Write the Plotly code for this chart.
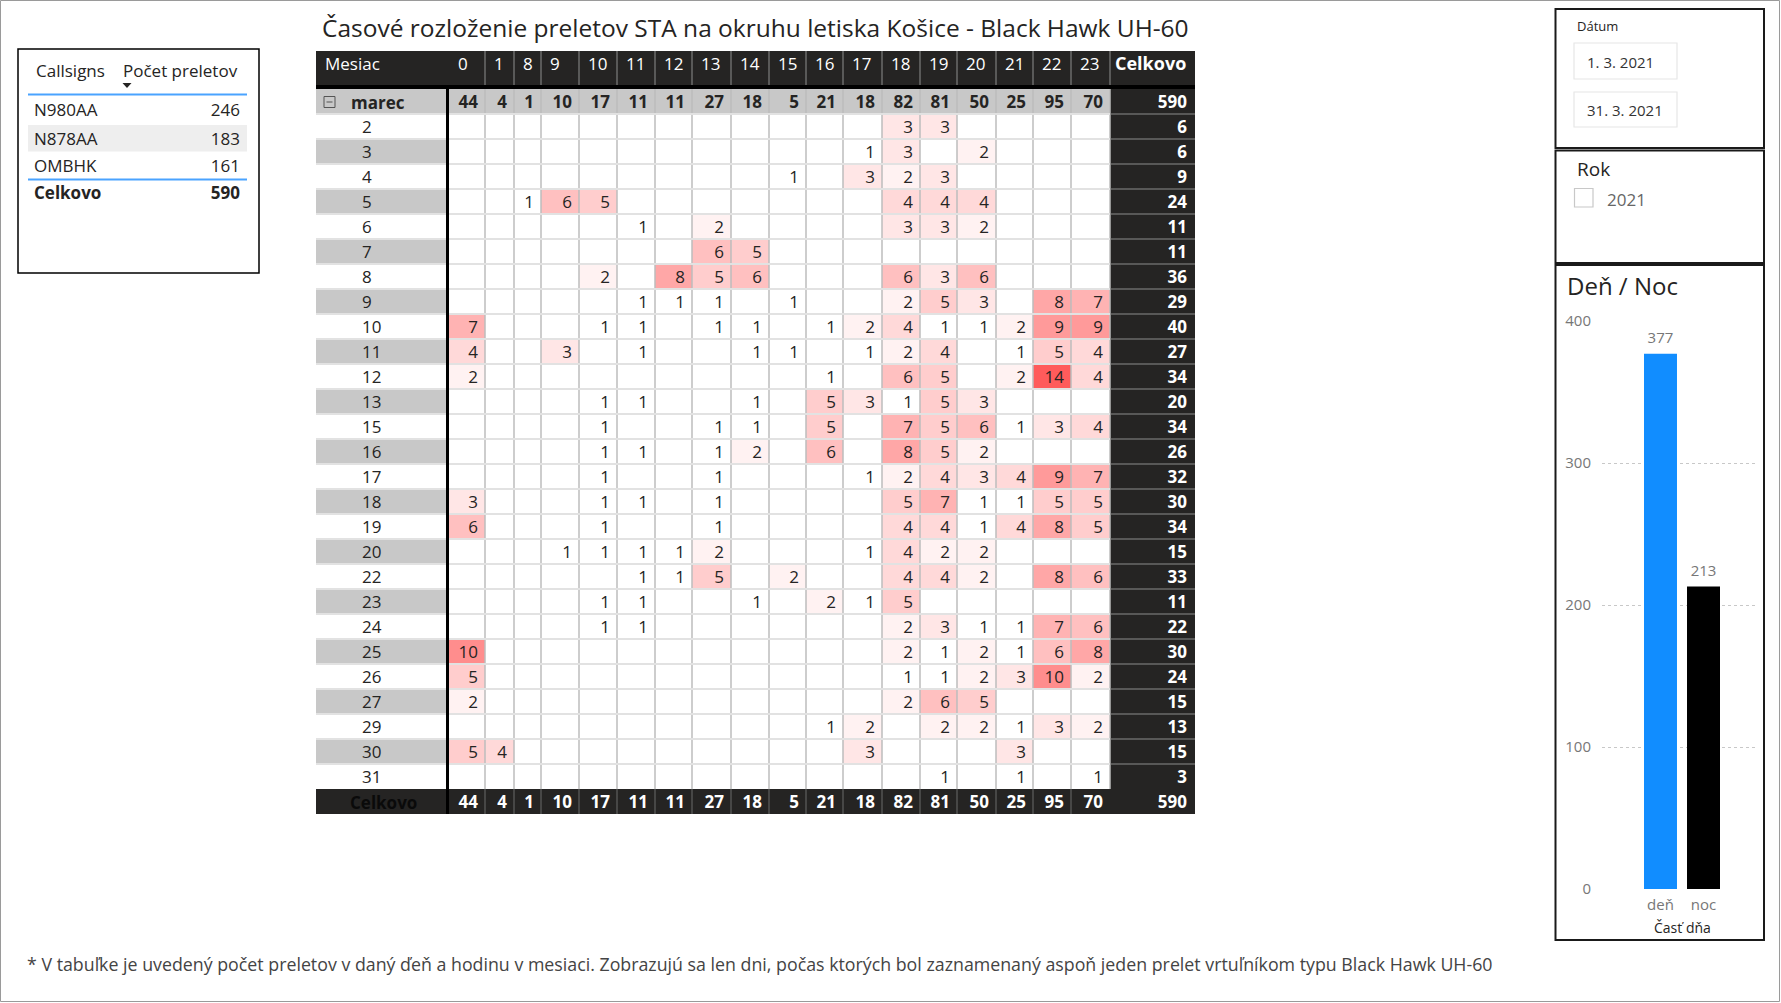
import numpy as np
import plotly.graph_objects as go

W, H = 1781, 1003
FONT = "Segoe UI, Open Sans, Noto Sans, sans-serif"

# ---------------- data ----------------
TITLE = "Časové rozloženie preletov STA na okruhu letiska Košice - Black Hawk UH-60"
FOOTNOTE = ("* V tabuľke je uvedený počet preletov v daný ďeň a hodinu v mesiaci. Zobrazujú sa len dni, "
            "počas ktorých bol zaznamenaný aspoň jeden prelet vrtuľníkom typu Black Hawk UH-60")
ROW_HEADER = "Mesiac"
MONTH_LABEL = "marec"
TOTAL_LABEL = "Celkovo"

HOURS = [0, 1, 8, 9, 10, 11, 12, 13, 14, 15, 16, 17, 18, 19, 20, 21, 22, 23]
DAYS = [2, 3, 4, 5, 6, 7, 8, 9, 10, 11, 12, 13, 15, 16, 17, 18, 19, 20, 22, 23, 24, 25, 26, 27, 29, 30, 31]
# flights per day (rows, DAYS) and hour (columns, HOURS); 0 = no flight
FLIGHTS = [
    [0, 0, 0, 0, 0, 0, 0, 0, 0, 0, 0, 0, 3, 3, 0, 0, 0, 0],   # 2
    [0, 0, 0, 0, 0, 0, 0, 0, 0, 0, 0, 1, 3, 0, 2, 0, 0, 0],   # 3
    [0, 0, 0, 0, 0, 0, 0, 0, 0, 1, 0, 3, 2, 3, 0, 0, 0, 0],   # 4
    [0, 0, 1, 6, 5, 0, 0, 0, 0, 0, 0, 0, 4, 4, 4, 0, 0, 0],   # 5
    [0, 0, 0, 0, 0, 1, 0, 2, 0, 0, 0, 0, 3, 3, 2, 0, 0, 0],   # 6
    [0, 0, 0, 0, 0, 0, 0, 6, 5, 0, 0, 0, 0, 0, 0, 0, 0, 0],   # 7
    [0, 0, 0, 0, 2, 0, 8, 5, 6, 0, 0, 0, 6, 3, 6, 0, 0, 0],   # 8
    [0, 0, 0, 0, 0, 1, 1, 1, 0, 1, 0, 0, 2, 5, 3, 0, 8, 7],   # 9
    [7, 0, 0, 0, 1, 1, 0, 1, 1, 0, 1, 2, 4, 1, 1, 2, 9, 9],   # 10
    [4, 0, 0, 3, 0, 1, 0, 0, 1, 1, 0, 1, 2, 4, 0, 1, 5, 4],   # 11
    [2, 0, 0, 0, 0, 0, 0, 0, 0, 0, 1, 0, 6, 5, 0, 2, 14, 4],  # 12
    [0, 0, 0, 0, 1, 1, 0, 0, 1, 0, 5, 3, 1, 5, 3, 0, 0, 0],   # 13
    [0, 0, 0, 0, 1, 0, 0, 1, 1, 0, 5, 0, 7, 5, 6, 1, 3, 4],   # 15
    [0, 0, 0, 0, 1, 1, 0, 1, 2, 0, 6, 0, 8, 5, 2, 0, 0, 0],   # 16
    [0, 0, 0, 0, 1, 0, 0, 1, 0, 0, 0, 1, 2, 4, 3, 4, 9, 7],   # 17
    [3, 0, 0, 0, 1, 1, 0, 1, 0, 0, 0, 0, 5, 7, 1, 1, 5, 5],   # 18
    [6, 0, 0, 0, 1, 0, 0, 1, 0, 0, 0, 0, 4, 4, 1, 4, 8, 5],   # 19
    [0, 0, 0, 1, 1, 1, 1, 2, 0, 0, 0, 1, 4, 2, 2, 0, 0, 0],   # 20
    [0, 0, 0, 0, 0, 1, 1, 5, 0, 2, 0, 0, 4, 4, 2, 0, 8, 6],   # 22
    [0, 0, 0, 0, 1, 1, 0, 0, 1, 0, 2, 1, 5, 0, 0, 0, 0, 0],   # 23
    [0, 0, 0, 0, 1, 1, 0, 0, 0, 0, 0, 0, 2, 3, 1, 1, 7, 6],   # 24
    [10, 0, 0, 0, 0, 0, 0, 0, 0, 0, 0, 0, 2, 1, 2, 1, 6, 8],  # 25
    [5, 0, 0, 0, 0, 0, 0, 0, 0, 0, 0, 0, 1, 1, 2, 3, 10, 2],  # 26
    [2, 0, 0, 0, 0, 0, 0, 0, 0, 0, 0, 0, 2, 6, 5, 0, 0, 0],   # 27
    [0, 0, 0, 0, 0, 0, 0, 0, 0, 0, 1, 2, 0, 2, 2, 1, 3, 2],   # 29
    [5, 4, 0, 0, 0, 0, 0, 0, 0, 0, 0, 3, 0, 0, 0, 3, 0, 0],   # 30
    [0, 0, 0, 0, 0, 0, 0, 0, 0, 0, 0, 0, 0, 1, 0, 1, 0, 1],   # 31
]

CALLSIGN_HEADERS = ["Callsigns", "Počet preletov"]
CALLSIGNS = ["N980AA", "N878AA", "OMBHK"]
CALLSIGN_FLIGHTS = [246, 183, 161]

DATE_LABEL = "Dátum"
DATE_FROM = "1. 3. 2021"
DATE_TO = "31. 3. 2021"
YEAR_LABEL = "Rok"
YEARS = ["2021"]

DN_TITLE = "Deň / Noc"
DN_AXIS_TITLE = "Časť dňa"
PARTS = ["deň", "noc"]
PART_COUNTS = [377, 213]

# ---------------- layout / style ----------------
TXT = "#252423"
DARK = "#252423"
GRAY_ROW = "#C8C8C8"
BLUE = "#118DFF"
PART_COLORS = [BLUE, "#000000"]

TBL_X0 = 316
ROWHDR_X1 = 446
DIV_W = 3
HOUR_W = [36, 29, 27, 38, 38, 38, 37, 39, 38, 37, 37, 39, 38, 37, 39, 37, 38, 39]
TOTAL_W = 85
HDR_Y0, HDR_Y1 = 51, 85
BAND = 4
ROW_H = 25
FS = 17
PAD = 7
TDY = 2  # vertical nudge for scatter text so it sits centred in its cell

hour_x0 = ROWHDR_X1 + DIV_W
hour_edges = np.concatenate([[hour_x0], hour_x0 + np.cumsum(HOUR_W)])
tot_x0 = hour_edges[-1]
tot_x1 = tot_x0 + TOTAL_W
marec_y0 = HDR_Y1 + BAND
marec_y1 = marec_y0 + ROW_H
row_edges = marec_y1 + ROW_H * np.arange(len(DAYS) + 1)
row_centers = (row_edges[:-1] + row_edges[1:]) / 2
grand_y0 = row_edges[-1]
grand_y1 = grand_y0 + ROW_H
marec_yc = (marec_y0 + marec_y1) / 2
grand_yc = (grand_y0 + grand_y1) / 2

Z = np.array(FLIGHTS, dtype=float)
hour_totals = Z.sum(axis=0).astype(int)
day_totals = Z.sum(axis=1).astype(int)
grand_total = int(Z.sum())

shapes = []
annotations = []


def rect(x0, y0, x1, y1, fill=None, line=None, lw=0, layer="below"):
    shapes.append(dict(type="rect", xref="x", yref="y", x0=x0, y0=y0, x1=x1, y1=y1,
                       fillcolor=fill if fill else "rgba(0,0,0,0)",
                       line=dict(color=line if line else "rgba(0,0,0,0)", width=lw),
                       layer=layer))


def seg(x0, y0, x1, y1, color, lw=1, dash=None, layer="above"):
    d = dict(color=color, width=lw)
    if dash:
        d["dash"] = dash
    shapes.append(dict(type="line", xref="x", yref="y", x0=x0, y0=y0, x1=x1, y1=y1,
                       line=d, layer=layer))


def label(x, y, text, size=FS, color=TXT, xanchor="left", yanchor="middle", bold=False):
    annotations.append(dict(xref="x", yref="y", x=x, y=y, text=(f"<b>{text}</b>" if bold else text),
                            showarrow=False, xanchor=xanchor, yanchor=yanchor,
                            font=dict(family=FONT, size=size, color=color)))


def text_trace(xs, ys, texts, pos, color=TXT, size=FS):
    fig.add_trace(go.Scatter(x=list(xs), y=[y + TDY for y in ys], text=list(texts), mode="text",
                             textposition=pos, textfont=dict(family=FONT, size=size, color=color),
                             hoverinfo="skip", cliponaxis=False, showlegend=False))


fig = go.Figure()

# ---------- matrix backgrounds ----------
rect(TBL_X0, HDR_Y0, tot_x1, HDR_Y1, fill=DARK)
rect(TBL_X0, HDR_Y1, tot_x1, marec_y0, fill="#000000")
rect(TBL_X0, marec_y0, tot_x0, marec_y1, fill=GRAY_ROW)
for i in range(len(DAYS)):
    if i % 2 == 1:
        rect(TBL_X0, row_edges[i], ROWHDR_X1, row_edges[i + 1], fill=GRAY_ROW)
rect(tot_x0, marec_y0, tot_x1, grand_y1, fill=DARK)
rect(TBL_X0, grand_y0, tot_x1, grand_y1, fill=DARK)

# ---------- heat cells ----------
zc = [[(v if v > 0 else None) for v in row] for row in FLIGHTS]
fig.add_trace(go.Heatmap(
    z=zc, x=hour_edges.tolist(), y=row_edges.tolist(), xaxis="x", yaxis="y",
    colorscale=[[0, "#FFFFFF"], [1, "#FF5B5B"]], zmin=1, zmax=14,
    showscale=False, hoverinfo="skip", zsmooth=False))

# ---------- grid lines ----------
for e in hour_edges[1:-1]:
    seg(e, HDR_Y0, e, HDR_Y1, "#6b6b6b", 1.5)
    seg(e, marec_y0, e, grand_y0, "#bdbdbd", 1.5)
    seg(e, grand_y0, e, grand_y1, "#6b6b6b", 1)
seg(tot_x0, HDR_Y0, tot_x0, HDR_Y1, "#6b6b6b", 1.5)
seg(tot_x0, marec_y0, tot_x0, grand_y0, "#bdbdbd", 1.5)
for i, y in enumerate(row_edges):
    if 0 < i < len(row_edges) - 1:
        seg(TBL_X0, y, tot_x0, y, "#e2e2e2", 2)
    if i < len(row_edges) - 1:
        seg(tot_x0, y, tot_x1, y, "#8c8c8c", 1)
seg(TBL_X0, marec_y1, tot_x0, marec_y1, "#e2e2e2", 2)
rect(ROWHDR_X1, marec_y0, ROWHDR_X1 + DIV_W, grand_y1, fill="#000000", layer="above")

# ---------- header texts ----------
hdr_yc = HDR_Y0 + 12
label(TBL_X0 + PAD, hdr_yc, ROW_HEADER, color="#FFFFFF")
for j, hr in enumerate(HOURS):
    label(hour_edges[j] + PAD, hdr_yc, str(hr), color="#FFFFFF")
label(tot_x1 - PAD, hdr_yc, TOTAL_LABEL, size=18, color="#FFFFFF", xanchor="right", bold=True)

# month row
rect(324, marec_yc - 5, 335, marec_yc + 6, line="#555555", lw=1, layer="above")
seg(326.5, marec_yc + 0.5, 332.5, marec_yc + 0.5, "#555555", 1)
label(349, marec_yc + 1, MONTH_LABEL, bold=True)
label(348, grand_yc + 1, TOTAL_LABEL, color="#0a0a0a", bold=True)

# ---------- value texts (scatter text marks) ----------
cx, cy, ct = [], [], []
for i, row in enumerate(FLIGHTS):
    for j, v in enumerate(row):
        if v > 0:
            cx.append(hour_edges[j + 1] - PAD)
            cy.append(row_centers[i])
            ct.append(str(v))
text_trace(cx, cy, ct, "middle left")
text_trace([TBL_X0 + 46] * len(DAYS), row_centers, [str(d) for d in DAYS], "middle right")
text_trace(hour_edges[1:] - PAD, [marec_yc] * len(HOURS), [f"<b>{v}</b>" for v in hour_totals], "middle left")
text_trace(hour_edges[1:] - PAD, [grand_yc] * len(HOURS), [f"<b>{v}</b>" for v in hour_totals], "middle left",
           color="#FFFFFF")
text_trace([tot_x1 - 8] * (len(DAYS) + 2), [marec_yc] + row_centers.tolist() + [grand_yc],
           [f"<b>{v}</b>" for v in [grand_total] + day_totals.tolist() + [grand_total]], "middle left",
           color="#FFFFFF")

# ---------- title & footnote ----------
label((TBL_X0 + tot_x1) / 2, 27, TITLE, size=24.5, xanchor="center")
label(25, 964, FOOTNOTE, size=17.8, color="#444444")

# ---------- page border ----------
rect(0.5, 0.5, W - 1.5, H - 1.5, line="#9a9a9a", lw=1, layer="above")

# ---------- callsigns table ----------
rect(18, 49, 259, 273, line="#000000", lw=1.5, layer="above")
cs_hdr_y = 70
cs_row_y = [110, 138.5, 166]
cs_tot_y = 193
rect(28, 125, 247, 151.5, fill="#EEEEEE")
seg(28, 94.5, 247, 94.5, "#4aa3ff", 2)
seg(28, 179.5, 247, 179.5, "#4aa3ff", 2)
label(34, cs_hdr_y, CALLSIGN_HEADERS[0])
label(240, cs_hdr_y, CALLSIGN_HEADERS[1], xanchor="right")
shapes.append(dict(type="path", xref="x", yref="y", path="M 122.5,83 L 131.5,83 L 127,88 Z",
                   fillcolor="#252423", line=dict(width=0), layer="above"))
text_trace([34] * (len(CALLSIGNS) + 1), cs_row_y + [cs_tot_y], CALLSIGNS + [f"<b>{TOTAL_LABEL}</b>"],
           "middle right")
text_trace([240] * (len(CALLSIGNS) + 1), cs_row_y + [cs_tot_y],
           [str(v) for v in CALLSIGN_FLIGHTS] + [f"<b>{sum(CALLSIGN_FLIGHTS)}</b>"], "middle left")

# ---------- right panels ----------
PX0, PX1 = 1555.5, 1764
rect(PX0, 9, PX1, 148, line="#1a1a1a", lw=2, layer="above")
rect(PX0, 150.5, PX1, 263, line="#1a1a1a", lw=2, layer="above")
rect(PX0, 265, PX1, 940, line="#1a1a1a", lw=2, layer="above")

label(1575, 26, DATE_LABEL, size=13)
rect(1574, 43, 1677, 79, line="#e6e6e6", lw=1.2)
rect(1574, 92, 1677, 127, line="#e6e6e6", lw=1.2)
label(1585, 62, DATE_FROM, size=15, color="#333333")
label(1585, 110, DATE_TO, size=15, color="#333333")

label(1575, 169, YEAR_LABEL, size=19)
rect(1574.5, 188.5, 1593, 207, line="#c8c8c8", lw=1.2)
label(1605, 199, YEARS[0], size=17, color="#666666")

label(1565, 285, DN_TITLE, size=24)
label(1682, 927, DN_AXIS_TITLE, size=14, xanchor="center")

fig.add_trace(go.Bar(x=PARTS, y=PART_COUNTS, marker=dict(color=PART_COLORS, line=dict(width=0)),
                     xaxis="x2", yaxis="y2", hoverinfo="skip", showlegend=False))
fig.add_trace(go.Scatter(x=PARTS, y=PART_COUNTS, text=[str(v) for v in PART_COUNTS],
                         mode="markers+text", textposition="top center",
                         marker=dict(size=10, opacity=0), xaxis="x2", yaxis="y2",
                         textfont=dict(family=FONT, size=15, color="#777777"), cliponaxis=False,
                         hoverinfo="skip", showlegend=False))

fig.update_layout(
    width=W, height=H, margin=dict(l=0, r=0, t=0, b=0, pad=0, autoexpand=False), autosize=False,
    paper_bgcolor="#FFFFFF", plot_bgcolor="rgba(0,0,0,0)",
    showlegend=False, hovermode=False, bargap=0.233,
    font=dict(family=FONT, color=TXT),
    xaxis=dict(domain=[0, 1], range=[0, W], visible=False, fixedrange=True, automargin=False),
    yaxis=dict(domain=[0, 1], range=[H, 0], visible=False, fixedrange=True, automargin=False),
    xaxis2=dict(domain=[1602 / W, 1758 / W], anchor="y2", range=[-1.36, 2.267], showgrid=False,
                zeroline=False, showline=False, ticks="", fixedrange=True, ticklabelstandoff=5,
                automargin=False, tickfont=dict(family=FONT, size=15, color="#777777")),
    yaxis2=dict(domain=[1 - 889 / H, 1 - 321 / H], anchor="x2", range=[0, 400], tickvals=[0, 100, 200, 300, 400],
                gridcolor="#c8c8c8", griddash="dot", gridwidth=1, zeroline=False, showline=False,
                ticks="", ticklabelstandoff=10, fixedrange=True, automargin=False,
                tickfont=dict(family=FONT, size=15, color="#777777")),
    shapes=shapes, annotations=annotations,
)

fig.write_html("out.html", config={"displayModeBar": False},
               post_script="document.body.style.margin='0';document.body.style.overflow='hidden';")
